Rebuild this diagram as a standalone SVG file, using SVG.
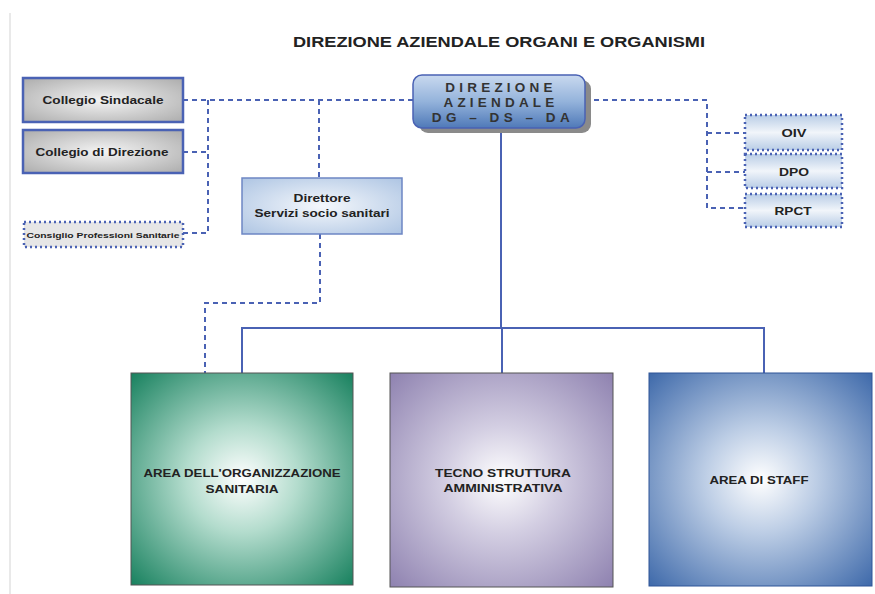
<svg xmlns="http://www.w3.org/2000/svg" width="875" height="594" viewBox="0 0 875 594">
<defs>
<radialGradient id="gGray" cx="0.5" cy="0.5" r="0.7">
<stop offset="0" stop-color="#f4f4f4"/><stop offset="1" stop-color="#acacac"/>
</radialGradient>
<linearGradient id="gDir" x1="0" y1="0" x2="0" y2="1">
<stop offset="0" stop-color="#c9d9ef"/><stop offset="0.5" stop-color="#94b3db"/><stop offset="1" stop-color="#4f79b8"/>
</linearGradient>
<linearGradient id="gLight" x1="0" y1="0" x2="0" y2="1">
<stop offset="0" stop-color="#b9cde6"/><stop offset="0.5" stop-color="#f1f5fa"/><stop offset="1" stop-color="#b9cde6"/>
</linearGradient>
<radialGradient id="gDss" cx="0.5" cy="0.5" r="0.7">
<stop offset="0" stop-color="#f5f8fc"/><stop offset="1" stop-color="#aec5e3"/>
</radialGradient>
<radialGradient id="gGreen" cx="0.5" cy="0.5" r="0.72">
<stop offset="0" stop-color="#ffffff"/><stop offset="0.35" stop-color="#b3dccd"/><stop offset="1" stop-color="#137e5b"/>
</radialGradient>
<radialGradient id="gPurple" cx="0.5" cy="0.5" r="0.72">
<stop offset="0" stop-color="#ffffff"/><stop offset="0.35" stop-color="#d3cee2"/><stop offset="1" stop-color="#8c7fae"/>
</radialGradient>
<radialGradient id="gBlue" cx="0.5" cy="0.5" r="0.72">
<stop offset="0" stop-color="#ffffff"/><stop offset="0.35" stop-color="#bccde5"/><stop offset="1" stop-color="#3a66a8"/>
</radialGradient>
</defs>
<style>
text{font-family:"Liberation Sans",Arial,sans-serif;font-weight:bold;fill:#222;text-anchor:middle}
.dash{fill:none;stroke:#4a62b4;stroke-width:2;stroke-dasharray:5 4}
.solid{fill:none;stroke:#4a62b4;stroke-width:2}
.grayBox{fill:url(#gGray);stroke:#4a62b4;stroke-width:2.5}
.dotBox{stroke:#4a62b4;stroke-width:2.5;stroke-dasharray:2 3}
.big{stroke:#555;stroke-width:1}
.dir{font-size:13.5px;fill:#333}
</style>
<rect width="875" height="594" fill="#fff"/>
<line x1="10" y1="13" x2="10" y2="594" stroke="#e2e2e2" stroke-width="1.5"/>
<text x="499" y="47" font-size="14.5" textLength="412" lengthAdjust="spacingAndGlyphs">DIREZIONE AZIENDALE ORGANI E ORGANISMI</text>

<g id="connectors">
<path class="dash" d="M183 100 H415"/>
<path class="dash" d="M208 100 V233"/>
<path class="dash" d="M183 152 H208"/>
<path class="dash" d="M183 233 H208"/>
<path class="dash" d="M319 100 V178"/>
<path class="dash" d="M320 234 V303 H205 V373"/>
<path class="dash" d="M585 100 H707 V208 H745"/>
<path class="dash" d="M707 133 H745"/>
<path class="dash" d="M707 172 H745"/>
<path class="solid" d="M501 128 V328"/>
<path class="solid" d="M242 373 V328 H764 V373"/>
<path class="solid" d="M502 328 V373"/>
</g>

<g id="direzione">
<rect x="419" y="80" width="172" height="53" rx="9" fill="#8a8a8a"/>
<rect x="413" y="75" width="172" height="53" rx="9" fill="url(#gDir)" stroke="#4a62b4" stroke-width="1.5"/>
<text class="dir" x="501" y="92" letter-spacing="4.2">DIREZIONE</text>
<text class="dir" x="501" y="107" letter-spacing="4.2">AZIENDALE</text>
<text class="dir" x="503" y="122" letter-spacing="4.5">DG – DS – DA</text>
</g>

<g id="collegio-sindacale">
<rect class="grayBox" x="23" y="78" width="160" height="44"/>
<text x="103" y="104" font-size="11.5" textLength="121" lengthAdjust="spacingAndGlyphs">Collegio Sindacale</text>
</g>
<g id="collegio-direzione">
<rect class="grayBox" x="23" y="130" width="160" height="43"/>
<text x="102" y="156" font-size="11.5" textLength="133" lengthAdjust="spacingAndGlyphs">Collegio di Direzione</text>
</g>
<g id="consiglio">
<rect class="dotBox" x="24" y="222" width="159" height="25" fill="#e6e6e6"/>
<text x="103" y="238" font-size="8" font-weight="normal" textLength="153" lengthAdjust="spacingAndGlyphs">Consiglio Professioni Sanitarie</text>
</g>
<g id="direttore-sss">
<rect x="242" y="178" width="160" height="56" fill="url(#gDss)" stroke="#6d86c4" stroke-width="1.5"/>
<text x="322" y="202" font-size="11" textLength="57" lengthAdjust="spacingAndGlyphs">Direttore</text>
<text x="322" y="217" font-size="11" textLength="135" lengthAdjust="spacingAndGlyphs">Servizi socio sanitari</text>
</g>

<g id="oiv">
<rect class="dotBox" x="745" y="115" width="97" height="35" fill="url(#gLight)"/>
<text x="794" y="137" font-size="11" fill="#333" textLength="25" lengthAdjust="spacingAndGlyphs">OIV</text>
</g>
<g id="dpo">
<rect class="dotBox" x="745" y="154" width="97" height="34" fill="url(#gLight)"/>
<text x="794" y="176" font-size="11" fill="#333" textLength="30" lengthAdjust="spacingAndGlyphs">DPO</text>
</g>
<g id="rpct">
<rect class="dotBox" x="745" y="194" width="97" height="33" fill="url(#gLight)"/>
<text x="793" y="215" font-size="11" fill="#333" textLength="37" lengthAdjust="spacingAndGlyphs">RPCT</text>
</g>

<g id="area-sanitaria">
<rect class="big" x="131" y="373" width="222" height="212" fill="url(#gGreen)"/>
<text x="242" y="477" font-size="11" textLength="197" lengthAdjust="spacingAndGlyphs">AREA DELL'ORGANIZZAZIONE</text>
<text x="242" y="493" font-size="11" textLength="73" lengthAdjust="spacingAndGlyphs">SANITARIA</text>
</g>
<g id="tecno-struttura">
<rect class="big" x="390" y="373" width="223" height="214" fill="url(#gPurple)"/>
<text x="503" y="477" font-size="11" textLength="136" lengthAdjust="spacingAndGlyphs">TECNO STRUTTURA</text>
<text x="503" y="492" font-size="11" textLength="119" lengthAdjust="spacingAndGlyphs">AMMINISTRATIVA</text>
</g>
<g id="area-staff">
<rect x="649" y="373" width="223" height="213" fill="url(#gBlue)" stroke="#2f5597" stroke-width="1"/>
<text x="759" y="484" font-size="11" textLength="99" lengthAdjust="spacingAndGlyphs">AREA DI STAFF</text>
</g>
</svg>
